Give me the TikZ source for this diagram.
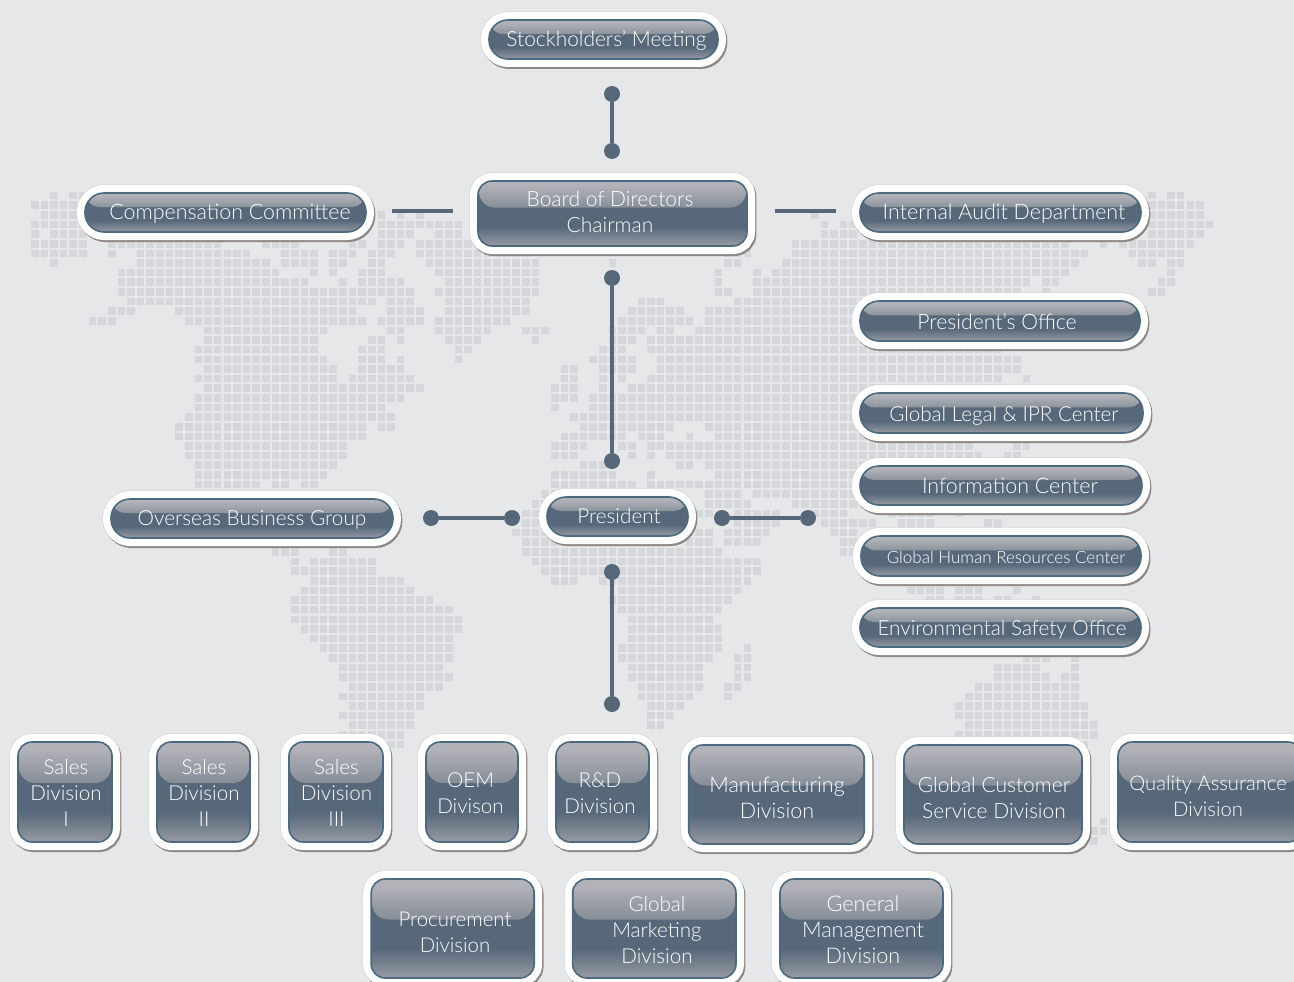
\documentclass[tikz,border=0pt]{standalone}
\usepackage{fontspec}
\usepackage{xcolor}
\setmainfont{Lato}[UprightFont=* Light]
\usetikzlibrary{calc}

\definecolor{paper}{HTML}{E6E7E9}
\definecolor{cellgrey}{HTML}{D6D7DA}
\definecolor{slateline}{HTML}{56677A}
\definecolor{panelrim}{HTML}{4B697F}
\definecolor{paneldark}{HTML}{56687A}
\definecolor{panellow}{HTML}{989AA3}
\definecolor{glosstop}{HTML}{B2B3B9}
\definecolor{glosslow}{HTML}{66717F}
\definecolor{rimshadow}{HTML}{8F8784}
\definecolor{rimhalo}{HTML}{CFCFD0}

\pgfdeclareverticalshading{panelbody}{100bp}{color(0bp)=(panellow); color(25bp)=(panellow); color(40bp)=(paneldark); color(100bp)=(paneldark)}
\pgfdeclareverticalshading{panelgloss}{100bp}{color(0bp)=(glosslow); color(42bp)=(glosslow); color(72bp)=(glosstop); color(100bp)=(glosstop)}

\newcommand{\maprow}[2]{\foreach \a/\b in {#2}{\foreach \c in {\a,...,\b}{\fill[mapcell] ({9.63*\c+30.9},{9.63*#1+191.8}) rectangle +(7.6,7.6);}}}

\begin{document}
\begin{tikzpicture}[x=1pt,y=-1pt]
            \tikzset{mapcell/.style = {fill=cellgrey}}
            \tikzset{joint/.style = {circle,fill=slateline,minimum size=16pt,inner sep=0pt}}
            \tikzset{link/.style = {-,draw=slateline,line width=4pt}}
            \tikzset{caption/.style = {text=white,align=center,inner sep=0pt,execute at begin node=\strut,execute at end node=\strut}}
            \tikzset{panel/.style n args = {5}{minimum width=#1pt,minimum height=#2pt,inner sep=0pt,rounded corners=#3pt,
                preaction={draw=rimhalo,line width=17pt},
                preaction={draw=rimshadow,line width=16pt,transform canvas={xshift=1.4pt,yshift=-2pt}},
                preaction={draw=white,line width=16pt},
                shade,shading=panelbody,draw=panelrim,line width=1.6pt,
                path picture={\shade[shading=panelgloss]
                  ($(path picture bounding box.north west)+(1,0)$) [rounded corners=#5pt]
                  -- ($(path picture bounding box.north west)!#4!(path picture bounding box.south west)+(1,0)$)
                  -- ($(path picture bounding box.north east)!#4!(path picture bounding box.south east)+(-1,0)$) [sharp corners]
                  -- ($(path picture bounding box.north east)+(-1,0)$) -- cycle;}}}

            \useasboundingbox (0,0) rectangle (1294,982);
            \clip (0,0) rectangle (1294,982);
            \fill[paper] (0,0) rectangle (1294,982);

            % map
            \maprow{0}{2,4/5,116,118/119}
            \maprow{1}{0/5,116/121}
            \maprow{2}{1/5,36,38,40,81,116/121}
            \maprow{3}{0/5,36/44,82,84/85,116/122}
            \maprow{4}{0,2/5,36/39,42/44,82/85,116/121}
            \maprow{5}{0/5,8/19,24/27,33/34,36/38,40/50,79/107,111,113/120}
            \maprow{6}{0/5,8,11/22,26/29,31/33,35/37,40/51,72/74,79/109,114/119}
            \maprow{7}{2,11/24,26/29,31/32,35/36,41/52,60,72/73,78/108,115/116,118/119}
            \maprow{8}{9/25,29,31,34/36,42/52,71,75,77/107,118}
            \maprow{9}{9/28,32,34/38,43/52,71,75/103,105/106,117/118}
            \maprow{10}{9/39,42/52,71/72,75/102,105,116/117}
            \maprow{11}{10/35,37/39,43/51,63/65,73/100}
            \maprow{12}{8/10,15/33,37/40,43/51,62/67,70/100}
            \maprow{13}{6/8,16/34,36/40,42/49,61/68,70/100}
            \maprow{14}{18/30,37/38,42/47,51/53,60/63,65/66,69/100}
            \maprow{15}{18/29,35/36,38,43/46,52,60/62,64/100}
            \maprow{16}{17/29,34/36,44/45,59/61,64/100}
            \maprow{17}{17/30,34/36,38,44,58/62,65/102}
            \maprow{18}{18/31,34/38,55/56,59/62,65/102}
            \maprow{19}{17/31,33/39,55/56,59,61,64/100,103}
            \maprow{20}{18/40,54/56,59,62/100}
            \maprow{21}{17/38,54/56,58/100}
            \maprow{22}{17/36,54,58/98}
            \maprow{23}{16/37,56/98}
            \maprow{24}{15/34,36/37,57/66,70/98}
            \maprow{25}{15/34,55/61,63/65,68,71/98}
            \maprow{26}{16/32,54/57,61/62,64/97,102/103}
            \maprow{27}{16/32,54/56,62,64,66/98,101/102}
            \maprow{28}{17/31,57/60,67/68,70/98}
            \maprow{29}{17/30,54/60,64,71/85}
            \maprow{30}{17/23,25/26,28/29,54/62,64/85}
            \maprow{31}{53/62,70/73,75/85}
            \maprow{32}{52/60,70/74,79/85}
            \maprow{33}{51/60,68/70,73/77,81/84,89/93,96}
            \maprow{34}{51/60,73/77,82/87,90/93,99/100}
            \maprow{35}{50/60,68/70,72/76,83/85}
            \maprow{36}{51/60,68/70,72/75,84/85}
            \maprow{37}{25/27,31/32,51/71,84/85}
            \maprow{38}{27,29/35,52/75}
            \maprow{39}{27/35,53/75}
            \maprow{40}{29/38,54/56,59/74}
            \maprow{41}{28/39,61/73,91/94,96/98,102}
            \maprow{42}{27/41,60/72,93/94,96/98,100/101,104}
            \maprow{43}{27/43,61/71}
            \maprow{44}{27/44,62/70}
            \maprow{45}{28/44,62/71}
            \maprow{46}{29/43,62/71}
            \maprow{47}{30/43,61/71,74}
            \maprow{48}{31/43,61/70,73/74,103/105,108}
            \maprow{49}{32/42,62/69,73/74,100/104,108}
            \maprow{50}{32/43,62/69,73/74,100/105,107/108}
            \maprow{51}{33/42,63/69,72/73,98/108}
            \maprow{52}{32/40,63/68,72,97/108}
            \maprow{53}{33/40,64/67,96/109}
            \maprow{54}{32/39,64/66,96/109}
            \maprow{55}{33/39,64/65,97/110}
            \maprow{56}{32/38,96/110}
            \maprow{57}{37/38,108/109}
            \maprow{65}{111}
            \maprow{66}{110/111}
            \maprow{67}{110}

            % panels
            \foreach \nm/\xc/\yc/\w/\h/\tx/\ty/\fs/\lbl in {
              stock/603.5/39.5/229/39/606.5/41/20.9/{Stockholders’ Meeting},
              comp/225.5/212.5/281/39/230/214.5/21.4/{Compensation Committee},
              audit/1000.5/212.5/281/39/1004/214.5/21.4/{Internal Audit Department},
              office/1000/321/280/40/997/324/21.2/{President’s Office},
              legal/1001.5/413/283/40/1004/416/20.6/{Global Legal \& IPR Center},
              info/1001/485.5/282/39/1010/488.5/21.4/{Information Center},
              human/1001/556/280/40/1006/558.5/17/{Global Human Resources Center},
              envir/1000.5/627.5/281/39/1002/630/20.7/{Environmental Safety Office},
              overseas/252/518.5/282/39/252/520/20.8/{Overseas Business Group},
              pres/617.5/516.5/141/39/619/518/20.7/{President}}
            {
              \node[panel={\w}{\h}{19}{0.36}{13}] (\nm) at (\xc,\yc) {};
              \node[caption,font=\fontsize{\fs}{26}\selectfont] (\nm-text) at (\tx,\ty) {\lbl};
            }

            \foreach \nm/\xc/\yc/\w/\h/\tx/\ty/\fs/\lbl in {
              board/612.5/213.5/269/65/610/215.5/21/{Board of Directors\\Chairman},
              salesa/65/792/94/100/66/797/20.6/{Sales\\Division\\I},
              salesb/203.5/792/93/100/204/797/20.6/{Sales\\Division\\II},
              salesc/336/792/94/100/336.5/797/20.6/{Sales\\Division\\III},
              oem/472/792/92/100/470.5/797.5/20.6/{OEM\\Divison},
              rnd/602.5/792/93/100/600/797.5/20.6/{R\&D\\Division},
              manuf/776.5/794.5/175.5/99/777/802/21.5/{Manufacturing\\Division},
              service/993/794.5/178/99/994/802/21/{Global Customer\\Service Division},
              quality/1210/792/184/100/1208/800/20.2/{Quality Assurance\\Division},
              procure/452.7/928.5/163/99/455/936.5/20.4/{Procurement\\Division},
              market/654.3/928.5/163.4/99/657/934/20.6/{Global\\Marketing\\Division},
              general/861.5/928.5/163/99/863/934/21.6/{General\\Management\\Division}}
            {
              \node[panel={\w}{\h}{14}{0.41}{16}] (\nm) at (\xc,\yc) {};
              \node[caption,font=\fontsize{\fs}{26}\selectfont] (\nm-text) at (\tx,\ty) {\lbl};
            }

            % joints
            \foreach \nm/\xc/\yc in {topa/612/94,topb/612/151,mida/612/278,midb/612/461,lowa/612/572,lowb/612/704,
              lefta/431/518,leftb/512/518,righta/722/518,rightb/808/518}
            {
              \node[joint] (\nm) at (\xc,\yc) {};
            }
            \coordinate (dasha) at (392,211);
            \coordinate (dashb) at (453,211);
            \coordinate (dashc) at (775,211);
            \coordinate (dashd) at (836,211);

            % links
            \draw[link] (topa) to (topb);
            \draw[link] (mida) to (midb);
            \draw[link] (lowa) to (lowb);
            \draw[link] (lefta) to (leftb);
            \draw[link] (righta) to (rightb);
            \draw[link] (dasha) to (dashb);
            \draw[link] (dashc) to (dashd);

\end{tikzpicture}
\end{document}
